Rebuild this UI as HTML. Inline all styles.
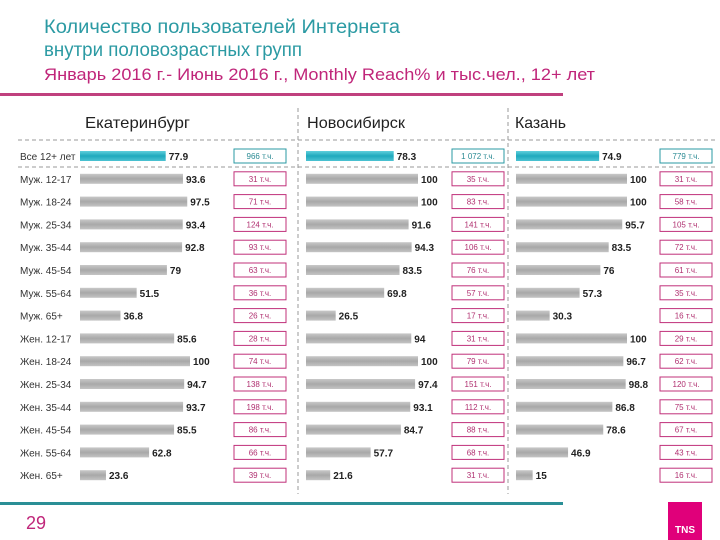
<!DOCTYPE html>
<html><head><meta charset="utf-8">
<style>
body{margin:0;background:#fff;}
svg{display:block;font-family:"Liberation Sans",sans-serif;}
</style></head>
<body>
<svg id="c" width="720" height="540">
<defs>
<linearGradient id="gg" x1="0" y1="0" x2="0" y2="1"><stop offset="0" stop-color="#c8c8c8"/><stop offset="0.5" stop-color="#a8a8a8"/><stop offset="1" stop-color="#c4c4c4"/></linearGradient>
<linearGradient id="tg" x1="0" y1="0" x2="0" y2="1"><stop offset="0" stop-color="#5fcfdc"/><stop offset="0.5" stop-color="#1fa9bd"/><stop offset="1" stop-color="#4cc2d2"/></linearGradient>
</defs>
<text x="44" y="33" font-size="19" fill="#2b9aa3" textLength="356" lengthAdjust="spacingAndGlyphs">Количество пользователей Интернета</text>
<text x="44" y="56" font-size="19" fill="#2b9aa3" textLength="258" lengthAdjust="spacingAndGlyphs">внутри половозрастных групп</text>
<text x="44" y="80" font-size="17" fill="#c0267a" textLength="551" lengthAdjust="spacingAndGlyphs">Январь 2016 г.- Июнь 2016 г., Monthly Reach% и тыс.чел., 12+ лет</text>
<rect x="0" y="93" width="563" height="3" fill="#c0407e"/>
<rect x="0" y="502" width="563" height="3" fill="#2a8f96"/>
<text x="26" y="529" font-size="18" fill="#c0267a">29</text>
<rect x="668" y="502" width="34" height="38" fill="#e0007a"/>
<text x="685" y="533" font-size="10" font-weight="bold" fill="#fff" text-anchor="middle">TNS</text>
<text x="85" y="128" font-size="16" fill="#222" textLength="105" lengthAdjust="spacingAndGlyphs">Екатеринбург</text>
<text x="307" y="128" font-size="16" fill="#222" textLength="98" lengthAdjust="spacingAndGlyphs">Новосибирск</text>
<text x="515" y="128" font-size="16" fill="#222" textLength="51" lengthAdjust="spacingAndGlyphs">Казань</text>
<line x1="18" y1="140" x2="716" y2="140" stroke="#999" stroke-dasharray="4,3"/>
<line x1="18" y1="167" x2="716" y2="167" stroke="#999" stroke-dasharray="4,3"/>
<line x1="298" y1="108" x2="298" y2="494" stroke="#999" stroke-dasharray="4,3"/>
<line x1="508" y1="108" x2="508" y2="494" stroke="#999" stroke-dasharray="4,3"/>
<g id="rows"></g>
</svg>
<script>
const categories=["Все 12+ лет","Муж. 12-17","Муж. 18-24","Муж. 25-34","Муж. 35-44","Муж. 45-54","Муж. 55-64","Муж. 65+","Жен. 12-17","Жен. 18-24","Жен. 25-34","Жен. 35-44","Жен. 45-54","Жен. 55-64","Жен. 65+"];
const reachEkb=[77.9,93.6,97.5,93.4,92.8,79,51.5,36.8,85.6,100,94.7,93.7,85.5,62.8,23.6];
const reachNsk=[78.3,100,100,91.6,94.3,83.5,69.8,26.5,94,100,97.4,93.1,84.7,57.7,21.6];
const reachKzn=[74.9,100,100,95.7,83.5,76,57.3,30.3,100,96.7,98.8,86.8,78.6,46.9,15];
const usersEkb=["966","31","71","124","93","63","36","26","28","74","138","198","86","66","39"];
const usersNsk=["1 072","35","83","141","106","76","57","17","31","79","151","112","88","68","31"];
const usersKzn=["779","31","58","105","72","61","35","16","29","62","120","75","67","43","16"];
const NS="http://www.w3.org/2000/svg";
const g=document.getElementById('rows');
function y(i){return 156+i*22.8;}
function mk(t,a){const e=document.createElementNS(NS,t);for(const k in a)e.setAttribute(k,a[k]);return e;}
const panels=[{x0:80,w:110,v:reachEkb,u:usersEkb,bx:234,n:'ekb'},{x0:306,w:112,v:reachNsk,u:usersNsk,bx:452,n:'nsk'},{x0:516,w:111,v:reachKzn,u:usersKzn,bx:660,n:'kzn'}];
categories.forEach((c,i)=>{
  const t=mk('text',{x:20,y:y(i)+4,'font-size':10,fill:'#333'});t.textContent=c;
  
  
  g.appendChild(t);
  panels.forEach(p=>{
    const bw=p.v[i]/100*p.w;
    const r=mk('rect',{x:p.x0,y:y(i)-5,width:bw,height:10,fill:i==0?'url(#tg)':'url(#gg)'});
    
    
    g.appendChild(r);
    const vt=mk('text',{x:p.x0+bw+3,y:y(i)+4,'font-size':10,'font-weight':'bold',fill:'#222'});vt.textContent=String(p.v[i]);
    
    
    g.appendChild(vt);
    const col=i==0?'#2a9aa3':'#c0307a';
    const b=mk('rect',{x:p.bx,y:y(i)-7,width:52,height:14,fill:'#fff',stroke:col,'stroke-width':1});
    
    
    g.appendChild(b);
    const bt=mk('text',{x:p.bx+26,y:y(i)+3,'font-size':8,fill:i==0?'#2a8a93':'#b03070','text-anchor':'middle'});bt.textContent=p.u[i]+' т.ч.';
    
    
    g.appendChild(bt);
  });
});
</script>
</body></html>
